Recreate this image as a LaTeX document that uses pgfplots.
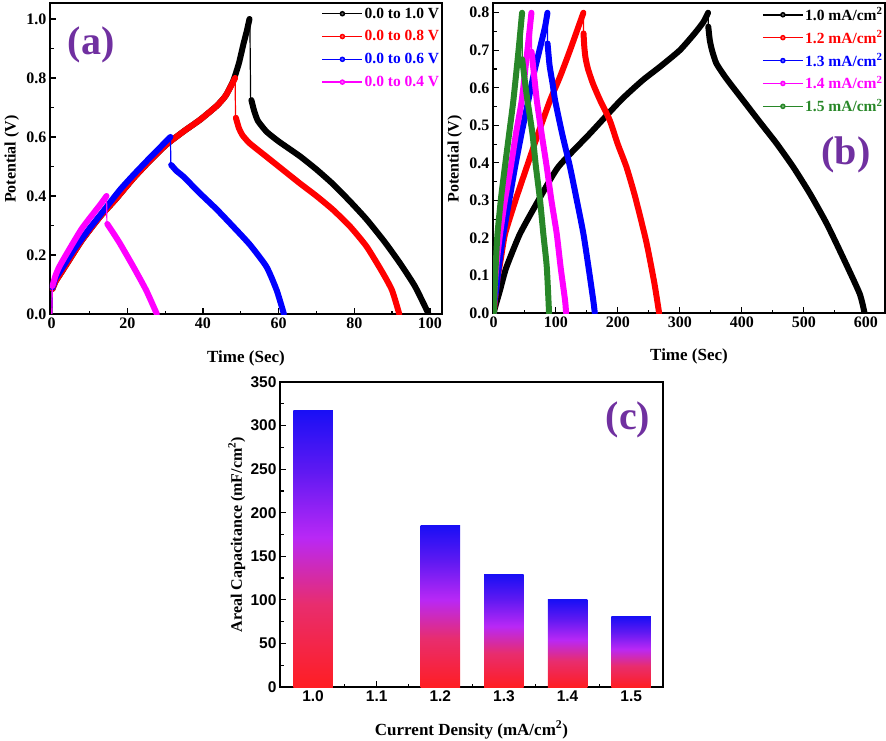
\documentclass[border=0pt]{standalone}
\usepackage{pgfplots}
\pgfplotsset{compat=1.18}
\usepackage{fontspec}
\setmainfont{Liberation Serif}
\newfontfamily\arialfont{Liberation Sans}
\definecolor{labpurple}{RGB}{112,48,160}
\definecolor{mygreen}{RGB}{40,135,40}
\definecolor{mymag}{RGB}{255,0,255}
\definecolor{sc0}{RGB}{255,30,35}
\definecolor{sc1}{RGB}{232,45,110}
\definecolor{sc2}{RGB}{185,40,245}
\definecolor{sc3}{RGB}{95,25,242}
\definecolor{sc4}{RGB}{25,15,245}
\pgfdeclareverticalshading{barshade}{100bp}{color(0bp)=(sc0); color(25bp)=(sc0); color(40bp)=(sc1); color(52bp)=(sc2); color(64bp)=(sc3); color(75bp)=(sc4); color(100bp)=(sc4)}
\pgfplotsset{
  mybase/.style={scale only axis, tick pos=left, tick align=inside,
    axis line style={line width=1.5pt},
    every tick/.style={line width=1.2pt, black},
    major tick length=6pt, minor tick length=3.5pt,
    /pgf/number format/assume math mode=true,
    tick label style={font=\bfseries\fontsize{16}{16}\selectfont},
    xlabel style={font=\bfseries\fontsize{17}{17}\selectfont, anchor=center},
    ylabel style={font=\bfseries\fontsize{16}{16}\selectfont, anchor=center},
  },
  band/.style={line width=6pt, line cap=round, line join=round, smooth, tension=0.35, forget plot},
  drop/.style={line width=1.2pt, forget plot},
  leg/.style={legend style={draw=none, fill=none, anchor=north east,
      font=\bfseries\fontsize{15.5}{15.5}\selectfont, row sep=#1, inner sep=0pt,
      nodes={inner sep=1.5pt}},
    legend cell align=left,
    legend image code/.code={\draw[##1, mark=none] (0pt,0pt) -- (40pt,0pt); \draw[##1] plot coordinates {(20pt,0pt)};}},
  li/.style={#1, line width=1.5pt, mark=*, mark size=2pt, mark options={fill=#1!60!white}},
  bar/.style={ybar, bar width=0.062, bar shift=0pt, draw=none, shading=barshade},
}
\begin{document}
\begin{tikzpicture}
\useasboundingbox (0,0) rectangle (886pt,-741pt);
% ---------------- (a)
\begin{axis}[mybase, leg=8pt, at={(50pt,-314pt)}, anchor=south west,
  width=392pt, height=311pt,
  xmin=-0.45, xmax=103.2, ymin=0, ymax=1.054,
  xtick={0,20,...,100}, ytick={0,0.2,...,1.0}, minor tick num=1,
  yticklabel style={/pgf/number format/.cd, fixed, fixed zerofill, precision=1},
  xlabel={Time (Sec)}, ylabel={Potential (V)},
  xlabel style={at={(axis description cs:0.5,-0.1415)}},
  ylabel style={at={(axis description cs:-0.0977,0.498)}},
  legend style={at={(axis description cs:0.997,0.99)}},
]
% black 0-1.0 V
\addplot[black, drop] coordinates {(0,0) (0.2,0.085)};
\addplot[black, band] coordinates {(0.2,0.085) (1,0.11) (2,0.13) (4,0.17) (8,0.25) (12.8,0.33) (17,0.39) (21.6,0.46) (26,0.52) (30.4,0.575) (35,0.62) (39.2,0.658) (43.6,0.705) (46,0.74) (48,0.79) (49.5,0.85) (50.7,0.915) (51.6,0.96) (52.3,1.0)};
\addplot[black, drop] coordinates {(52.4,1.0) (52.6,0.725)};
\addplot[black, band] coordinates {(52.8,0.725) (53.5,0.69) (54.5,0.655) (56.8,0.618) (60,0.585) (65.6,0.535) (70,0.49) (74.4,0.44) (79,0.38) (83.3,0.32) (88,0.245) (92.1,0.172) (96,0.095) (99.1,0.015) (99.6,0)};
% red 0-0.8 V
\addplot[red, drop] coordinates {(0,0) (0.2,0.085)};
\addplot[red, band] coordinates {(0.2,0.085) (1,0.11) (2,0.13) (4,0.17) (8,0.25) (12.8,0.33) (17,0.39) (21.6,0.46) (26,0.52) (30.4,0.575) (35,0.62) (39.2,0.658) (43.6,0.705) (46,0.74) (48.5,0.80)};
\addplot[red, drop] coordinates {(48.5,0.8) (48.6,0.67)};
\addplot[red, band] coordinates {(48.7,0.665) (49.5,0.63) (50.5,0.605) (52.4,0.578) (56.8,0.533) (61,0.49) (65.6,0.443) (70,0.4) (74.4,0.353) (79,0.295) (83.3,0.228) (87.5,0.14) (90,0.08) (91.9,0)};
% blue 0-0.6 V
\addplot[blue, drop] coordinates {(0,0) (0.2,0.09)};
\addplot[blue, band] coordinates {(0.2,0.09) (1,0.12) (3,0.16) (6,0.22) (10,0.29) (12.8,0.335) (18,0.42) (21.6,0.471) (26,0.53) (31.4,0.6)};
\addplot[blue, drop] coordinates {(31.4,0.6) (31.5,0.51)};
\addplot[blue, band] coordinates {(31.6,0.505) (33,0.485) (34.8,0.466) (39.2,0.409) (43.6,0.355) (48,0.296) (52.4,0.235) (56.8,0.16) (59.5,0.08) (61.4,0)};
% magenta 0-0.4 V
\addplot[mymag, drop] coordinates {(0,0) (0.2,0.095)};
\addplot[mymag, band] coordinates {(0.2,0.095) (1,0.13) (2,0.16) (4,0.205) (8,0.29) (12.8,0.37) (14.5,0.40)};
\addplot[mymag, drop] coordinates {(14.5,0.40) (14.6,0.31)};
\addplot[mymag, band] coordinates {(14.7,0.305) (16,0.28) (18,0.24) (21.6,0.16) (25,0.08) (27.8,0)};
\addlegendimage{li=black}
\addlegendentry{\textcolor{black}{0.0 to 1.0 V}}
\addlegendimage{li=red}
\addlegendentry{\textcolor{red}{0.0 to 0.8 V}}
\addlegendimage{li=blue}
\addlegendentry{\textcolor{blue}{0.0 to 0.6 V}}
\addlegendimage{li=mymag}
\addlegendentry{\textcolor{mymag}{0.0 to 0.4 V}}
\node[font=\bfseries\fontsize{40}{40}\selectfont, text=labpurple] at (axis description cs:0.1046,0.865) {(a)};
\end{axis}
% ---------------- (b)
\begin{axis}[mybase, leg=6pt, at={(493pt,-313pt)}, anchor=south west,
  width=392pt, height=310pt,
  xmin=-1.2, xmax=631, ymin=0, ymax=0.826,
  xtick={0,100,...,600}, ytick={0,0.1,...,0.8}, minor tick num=1,
  yticklabel style={/pgf/number format/.cd, fixed, fixed zerofill, precision=1},
  xlabel={Time (Sec)}, ylabel={Potential (V)},
  xlabel style={at={(axis description cs:0.5,-0.141)}},
  ylabel style={at={(axis description cs:-0.0977,0.497)}},
  legend style={at={(axis description cs:0.998,0.99)}},
]
% black 1.0
\addplot[black, band] coordinates {(0,0) (3,0.02) (10,0.06) (20,0.12) (42,0.21) (72,0.30) (104,0.389) (155,0.478) (205,0.567) (240,0.62) (268,0.656) (300,0.70) (324,0.745) (338,0.775) (345.7,0.80)};
\addplot[black, drop] coordinates {(345.7,0.80) (346,0.763)};
\addplot[black, band] coordinates {(346,0.763) (348.4,0.727) (352,0.70) (359,0.665) (375,0.625) (402,0.567) (429,0.509) (456,0.452) (483,0.389) (510,0.318) (537,0.238) (563,0.149) (590,0.052) (598,0)};
% red 1.2
\addplot[red, band] coordinates {(0,0) (2,0.034) (6,0.09) (11,0.14) (18.3,0.211) (35,0.3) (53.2,0.389) (72,0.48) (90.9,0.567) (107,0.63) (123,0.70) (136.6,0.763) (144.6,0.8)};
\addplot[red, drop] coordinates {(144.6,0.8) (144.8,0.745)};
\addplot[red, band] coordinates {(144.8,0.745) (146,0.71) (148,0.68) (152,0.65) (160,0.611) (171.5,0.567) (187,0.514) (200,0.45) (214,0.389) (228,0.31) (246,0.19) (259,0.08) (266.7,0)};
% blue 1.3
\addplot[blue, band] coordinates {(0,0) (1,0.03) (3.8,0.06) (8,0.12) (15.6,0.211) (25,0.3) (34.4,0.389) (45,0.48) (55.9,0.567) (65,0.64) (73.7,0.70) (82.8,0.763) (86.6,0.8)};
\addplot[blue, drop] coordinates {(86.6,0.8) (86.8,0.718)};
\addplot[blue, band] coordinates {(86.8,0.718) (90,0.66) (95,0.61) (98.9,0.567) (110,0.48) (123,0.389) (134,0.30) (144.6,0.211) (153,0.12) (160.5,0.034) (163,0)};
% magenta 1.4
\addplot[mymag, band] coordinates {(0,0) (1,0.05) (2,0.08) (5,0.14) (10.2,0.211) (18,0.3) (27.4,0.389) (36,0.48) (45.2,0.567) (54.3,0.70) (60.8,0.8)};
\addplot[mymag, drop] coordinates {(60.8,0.8) (61,0.696)};
\addplot[mymag, band] coordinates {(61,0.696) (64,0.65) (69.4,0.567) (77,0.48) (85.5,0.389) (93,0.30) (101.6,0.211) (108,0.12) (115,0.034) (116.7,0)};
% green 1.5
\addplot[mygreen, band] coordinates {(0,0) (1,0.05) (3,0.12) (6,0.21) (12,0.31) (18,0.39) (25,0.48) (31.7,0.567) (40,0.70) (45.7,0.8)};
\addplot[mygreen, drop] coordinates {(45.7,0.8) (45.9,0.676)};
\addplot[mygreen, band] coordinates {(45.9,0.676) (50,0.62) (54.3,0.567) (62.4,0.478) (68,0.39) (74.7,0.30) (80,0.21) (85.5,0.123) (89.2,0)};
\addlegendimage{li=black}
\addlegendentry{\textcolor{black}{1.0 mA/cm\textsuperscript{2}}}
\addlegendimage{li=red}
\addlegendentry{\textcolor{red}{1.2 mA/cm\textsuperscript{2}}}
\addlegendimage{li=blue}
\addlegendentry{\textcolor{blue}{1.3 mA/cm\textsuperscript{2}}}
\addlegendimage{li=mymag}
\addlegendentry{\textcolor{mymag}{1.4 mA/cm\textsuperscript{2}}}
\addlegendimage{li=mygreen}
\addlegendentry{\textcolor{mygreen}{1.5 mA/cm\textsuperscript{2}}}
\node[font=\bfseries\fontsize{40}{40}\selectfont, text=labpurple] at (axis description cs:0.9005,0.5097) {(b)};
\end{axis}
% ---------------- (c)
\begin{axis}[mybase, at={(280pt,-687pt)}, anchor=south west,
  width=383pt, height=305pt,
  xmin=0.948, xmax=1.550, ymin=0, ymax=350,
  xtick={1.0,1.1,1.2,1.3,1.4,1.5}, ytick={0,50,...,350}, minor tick num=1,
  tick label style={font=\arialfont\bfseries\fontsize{15.5}{15.5}\selectfont},
  xticklabel style={/pgf/number format/.cd, fixed, fixed zerofill, precision=1},
  xlabel={Current Density (mA/cm\textsuperscript{2})}, ylabel={Areal Capacitance (mF/cm\textsuperscript{2})},
  xlabel style={at={(axis description cs:0.5,-0.141)}},
  ylabel style={at={(axis description cs:-0.113,0.50)}},
]
\addplot[bar] coordinates {(1.0,317.5)};
\addplot[bar] coordinates {(1.2,185.3)};
\addplot[bar] coordinates {(1.3,129)};
\addplot[bar] coordinates {(1.4,100)};
\addplot[bar] coordinates {(1.5,80.8)};
\node[font=\bfseries\fontsize{40}{40}\selectfont, text=labpurple] at (axis description cs:0.9086,0.875) {(c)};
\end{axis}
\end{tikzpicture}
\end{document}
